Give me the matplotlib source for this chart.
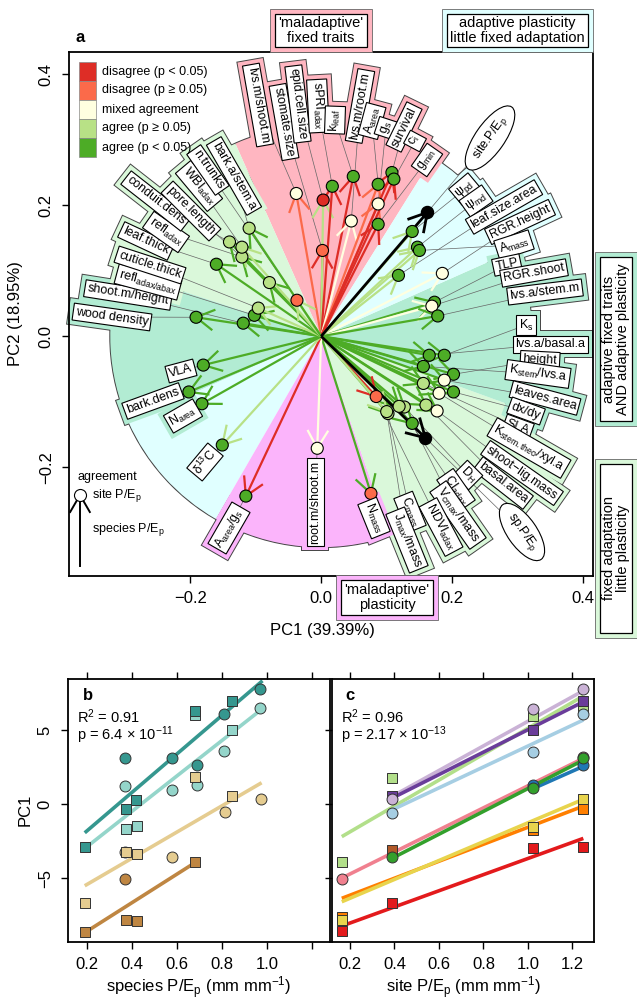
import matplotlib.pyplot as plt
import numpy as np
from matplotlib.patches import Arc, Rectangle, Wedge

plt.rcParams.update({
    "font.family": ["Liberation Sans", "DejaVu Sans"],
    "mathtext.fontset": "custom",
    "mathtext.rm": "Liberation Sans",
    "mathtext.it": "Liberation Sans:italic",
    "mathtext.bf": "Liberation Sans:bold",
    "mathtext.default": "regular",
})

# ---------------- panel a: PCA loadings ----------------
trait_labels = [
    "lvs.m/shoot.m", "stomate.size", "epid.cell.size", "sPRI$_{adax}$", "k$_{leaf}$",
    "lvs.m/root.m", "A$_{area}$", "g$_s$", "survival", "c$_i$", "g$_{min}$",
    "ψ$_{pd}$", "ψ$_{md}$", "leaf.size.area", "RGR.height", "A$_{mass}$",
    "TLP", "RGR.shoot", "lvs.a/stem.m", "K$_s$", "lvs.a/basal.a", "height",
    "K$_{stem}$/lvs.a", "leaves.area", "dx/dy", "SLA",
    "K$_{stem.theo}$/xyl.a", "shoot−lig.mass", "basal.area", "D$_H$", "CI$_{adax}$",
    "V$_{cmax}$/mass", "NDVI$_{adax}$", "C$_{mass}$", "J$_{max}$/mass",
    "N$_{mass}$", "root.m/shoot.m", "A$_{area}$/g$_s$", "δ$^{13}$C",
    "N$_{area}$", "bark.dens", "VLA", "wood density", "shoot.m/height",
    "refl$_{adax/abax}$", "cuticle.thick", "leaf.thick", "refl$_{adax}$",
    "conduit.dens", "pore.length", "WBI$_{adax}$", "n.trunks", "bark.a/stem.a",
]
pc1 = [-0.038, 0.002, 0.003, 0.017, 0.049, 0.046, 0.087, 0.087, 0.108, 0.111, 0.087,
       0.139, 0.147, 0.118, 0.185, 0.150,
       0.173, 0.169, 0.178, 0.188, 0.165, 0.202, 0.156, 0.188, 0.202, 0.156,
       0.180, 0.177, 0.160, 0.127, 0.119, 0.139, 0.084, 0.102, 0.100,
       0.076, -0.006, -0.115, -0.151,
       -0.182, -0.202, -0.180, -0.191, -0.119, -0.102, -0.096, -0.160, -0.121,
       -0.140, -0.079, -0.121, -0.037, -0.110]
pc2 = [0.218, 0.131, 0.208, 0.229, 0.244, 0.176, 0.232, 0.202, 0.250, 0.240, 0.171,
       0.160, 0.136, 0.093, 0.096, 0.131,
       0.052, 0.046, 0.031, -0.029, -0.029, -0.058, -0.046, -0.067, -0.085, -0.072,
       -0.087, -0.114, -0.105, -0.108, -0.107, -0.133, -0.092, -0.118, -0.115,
       -0.240, -0.171, -0.244, -0.166,
       -0.103, -0.085, -0.044, 0.029, 0.020, 0.032, 0.043, 0.110, 0.121,
       0.144, 0.082, 0.136, 0.055, 0.165]
site_agreement = ["mix", "dis_ns", "dis", "agr", "agr", "mix", "agr", "mix", "agr", "agr", "agr",
                  "agr", "agr", "agr", "mix", "agr",
                  "agr", "mix", "agr", "agr", "agr", "agr", "agr", "mix", "agr", "agr_ns",
                  "mix", "mix", "agr_ns", "agr_ns", "agr_ns", "agr", "dis_ns", "agr_ns", "agr_ns",
                  "dis_ns", "mix", "agr", "agr",
                  "agr", "agr", "agr", "agr", "agr", "agr", "agr_ns", "agr", "agr_ns",
                  "agr_ns", "agr_ns", "agr_ns", "dis_ns", "agr_ns"]
species_agreement = ["dis_ns", "dis", "agr_ns", "dis", "dis", "mix", "dis_ns", "dis_ns", "dis", "dis", "dis",
                     "agr_ns", "agr_ns", "agr_ns", "mix", "agr_ns",
                     "agr", "mix", "agr", "agr", "agr", "agr", "agr", "agr", "agr", "agr",
                     "agr", "agr", "agr", "agr", "agr", "agr", "dis", "agr", "agr_ns",
                     "agr", "mix", "dis", "agr_ns",
                     "agr", "agr", "agr", "agr", "agr", "agr", "agr_ns", "agr", "agr",
                     "agr", "agr", "agr_ns", "agr_ns", "agr"]
trait_sector = ["pink"] * 11 + ["cyan"] * 5 + ["aqua"] * 10 + ["lgreen"] * 9 + \
               ["magenta"] * 3 + ["cyan"] + ["aqua"] * 5 + ["lgreen"] * 9
# label placement (pixel centre, rotation)
label_px = [(258, 105), (284, 122), (298, 104), (318, 106), (335, 120), (360, 106), (372, 121),
            (386, 128), (404, 127), (415, 141), (427, 160),
            (465, 189), (476, 201), (504, 207), (520, 222), (514, 245),
            (507, 265), (534, 273), (545, 292), (526, 325), (550, 344), (540, 360), (538, 374),
            (545, 398), (526, 411), (518, 427),
            (529, 448), (522, 473), (503, 483), (468, 475), (456, 490), (458, 515), (441, 527),
            (410, 512), (407, 540),
            (374, 518), (315, 502), (229, 528), (205, 462),
            (183, 416), (153, 401), (181, 371), (112, 317), (128, 295), (148, 282), (150, 265),
            (146, 241), (166, 232), (156, 201), (191, 211), (199, 186), (208, 170), (234, 176)]
label_rot = [-80, -80, -83, -87, 88, 80, 75, 72, 64, 62, 55,
             40, 35, 30, 25, 18,
             12, 10, 7, 0, 0, -3, -8, -15, -20, -20,
             -30, -35, -38, -45, -55, -55, -62, -68, -68,
             -68, 90, 60, 50,
             30, 20, 15, -8, -9, -15, -18, -25, -35, -38, -45, -50, -55, -60]

ref_labels = ["site.P/E$_p$", "sp.P/E$_p$"]
ref_pc1 = [0.162, 0.159]
ref_pc2 = [0.189, -0.155]
ref_px = [(490, 138), (522, 532)]
ref_rot = [55, -55]

sectors = [(58, 114, "pink"), (114, 162, "lgreen"), (162, 204, "aqua"), (204, 240, "cyan"),
           (240, 289, "magenta"), (289, 340, "lgreen"), (-20, 24, "aqua"), (24, 58, "cyan")]
SECTOR_RADIUS = 0.322

legend_keys = ["dis", "dis_ns", "mix", "agr_ns", "agr"]
legend_text = ["disagree (p < 0.05)", "disagree (p ≥ 0.05)", "mixed agreement",
               "agree (p ≥ 0.05)", "agree (p < 0.05)"]

# ---------------- panel b: species P/Ep ----------------
b_series = [
    # colour, marker, x, y
    ("#94d5ca", "s", [0.846, 0.421, 0.373, 0.68], [5.0, -1.49, -1.69, 6.05]),
    ("#35978f", "s", [0.843, 0.68, 0.418, 0.372, 0.191], [6.98, 6.31, 0.27, -0.36, -2.93]),
    ("#35978f", "o", [0.969, 0.81, 0.576, 0.369, 0.687], [7.75, 6.08, 3.13, 3.09, 2.64]),
    ("#94d5ca", "o", [0.969, 0.81, 0.369, 0.576, 0.687], [6.47, 3.58, 1.22, 0.95, 1.28]),
    ("#e5cc90", "o", [0.973, 0.813, 0.576, 0.369], [0.32, -0.52, -3.6, -3.22]),
    ("#e5cc90", "s", [0.68, 0.846, 0.372, 0.421, 0.191], [1.8, 0.54, -3.27, -3.4, -6.67]),
    ("#bf8642", "o", [0.369], [-5.09]),
    ("#bf8642", "s", [0.68, 0.372, 0.421, 0.191], [-3.9, -7.84, -7.91, -8.63]),
]
b_lines = [
    ("#35978f", [0.19, 0.98], [-1.94, 8.33]),
    ("#94d5ca", [0.19, 0.976], [-3.0, 6.4]),
    ("#e5cc90", [0.19, 0.976], [-5.52, 1.44]),
    ("#bf8642", [0.19, 0.68], [-8.69, -3.96]),
]

# ---------------- panel c: site P/Ep ----------------
c_series = [
    ("#b15928", "s", [0.387], [-3.1]),
    ("#ff7f00", "s", [1.249, 1.024, 0.163], [-0.36, -1.76, -7.6]),
    ("#e8d44d", "s", [1.249, 1.024, 0.163], [0.32, -1.53, -7.84]),
    ("#e31a1c", "s", [1.249, 1.024, 0.387, 0.163], [-2.88, -2.95, -6.71, -8.56]),
    ("#b2df8a", "s", [0.387, 0.163, 1.024, 1.249], [1.78, -3.9, 5.95, 6.47]),
    ("#6a3d9a", "s", [1.249, 1.024, 0.387], [6.96, 5.0, 0.54]),
    ("#a6cee3", "o", [1.249, 1.024, 0.387], [6.08, 3.54, -0.59]),
    ("#cab2d6", "o", [1.249, 1.024, 0.387], [7.75, 6.42, 0.32]),
    ("#f0808f", "o", [0.163, 1.249], [-5.09, 3.2]),
    ("#1f78b4", "o", [1.024, 1.249], [1.28, 2.64]),
    ("#33a02c", "o", [0.387, 1.024, 1.249], [-3.56, 1.06, 3.09]),
]
c_lines = [
    ("#1f78b4", [1.024, 1.249], [1.05, 2.55]),
    ("#cab2d6", [0.387, 1.249], [0.5, 7.66]),
    ("#b2df8a", [0.163, 1.249], [-2.2, 7.3]),
    ("#6a3d9a", [0.387, 1.249], [0.38, 6.91]),
    ("#a6cee3", [0.387, 1.249], [-0.41, 5.68]),
    ("#f0808f", [0.163, 1.249], [-5.0, 3.09]),
    ("#33a02c", [0.387, 1.249], [-3.68, 2.97]),
    ("#ff7f00", [0.163, 1.249], [-6.37, -0.14]),
    ("#e8d44d", [0.163, 1.249], [-6.6, 0.32]),
    ("#e31a1c", [0.163, 1.249], [-8.24, -2.32]),
]

AGREE = {"dis": "#de2d26", "dis_ns": "#fb6a4a", "mix": "#ffffe0",
         "agr_ns": "#b8e186", "agr": "#4dac26"}
SECTOR = {"pink": "#ffb6c1", "lgreen": "#daf8da", "aqua": "#b2ecd3",
          "cyan": "#e0ffff", "magenta": "#fbb4fb"}

W, H = 637, 1007
fig = plt.figure(figsize=(W / 100, H / 100), dpi=100)


def fx(x):
    return x / W


def fy(y):
    return 1 - y / H


ax = fig.add_axes([fx(69), fy(576), 524 / W, 524 / H])
ax.set_xlim(-0.385, 0.415)
ax.set_ylim(-0.366, 0.434)


def to_data(px, py):
    return -0.385 + (px - 69) / 655, 0.434 - (py - 52) / 655


def arrow(x, y, color, lw=1.6, arm=0.03, z=3):
    ax.plot([0, x], [0, y], color=color, lw=lw, zorder=z, solid_capstyle="butt")
    ang = np.arctan2(y, x)
    for s in (1, -1):
        a = ang + np.pi + s * np.radians(30)
        ax.plot([x, x + arm * np.cos(a)], [y, y + arm * np.sin(a)], color=color, lw=lw, zorder=z)


# sectors
ax.add_patch(Arc((0, 0), 2 * SECTOR_RADIUS, 2 * SECTOR_RADIUS, ec="#444", lw=1.4, zorder=1.0))
for t1, t2, key in sectors:
    ax.add_patch(Wedge((0, 0), SECTOR_RADIUS, t1, t2, fc=SECTOR[key], ec="none", zorder=2.0))

FS = 9
for lab, (cx, cy), rot, sec in zip(trait_labels, label_px, label_rot, trait_sector):
    lx, ly = to_data(cx, cy)
    common = dict(rotation=rot, rotation_mode="anchor", ha="center", va="center", fontsize=FS)
    ax.text(lx, ly, lab, color="none", zorder=1.5,
            bbox=dict(boxstyle="square,pad=0.55", fc=SECTOR[sec], ec="#444", lw=1.4), **common)
    ax.text(lx, ly, lab, color="none", zorder=2.1,
            bbox=dict(boxstyle="square,pad=0.55", fc=SECTOR[sec], ec="none"), **common)
    ax.text(lx, ly, lab, zorder=7,
            bbox=dict(boxstyle="square,pad=0.2", fc="white", ec="black", lw=0.8), **common)

for lab, (cx, cy), rot in zip(ref_labels, ref_px, ref_rot):
    lx, ly = to_data(cx, cy)
    ax.text(lx, ly, lab, rotation=rot, rotation_mode="anchor", ha="center", va="center",
            fontsize=FS, zorder=7, bbox=dict(boxstyle="ellipse,pad=0.15", fc="white", ec="black", lw=0.8))

# connectors
for x, y, (cx, cy) in zip(pc1 + ref_pc1, pc2 + ref_pc2, label_px + ref_px):
    lx, ly = to_data(cx, cy)
    ax.plot([x, lx], [y, ly], color="#666", lw=0.5, zorder=2.5)

for x, y, sp in zip(pc1, pc2, species_agreement):
    arrow(x, y, AGREE[sp])
for x, y in zip(ref_pc1, ref_pc2):
    arrow(x, y, "black", lw=2.0)

ax.scatter(pc1, pc2, s=75, c=[AGREE[k] for k in site_agreement], edgecolors="black",
           linewidths=0.8, zorder=4)
ax.scatter(ref_pc1, ref_pc2, s=75, c="black", edgecolors="black", zorder=4)

# arrow key
kx, ky = to_data(80, 495)
_, ky0 = to_data(80, 566)
ax.plot([kx, kx], [ky0, ky], color="black", lw=1.4, zorder=3)
for s in (1, -1):
    a = np.pi / 2 + np.pi + s * np.radians(30)
    ax.plot([kx, kx + 0.03 * np.cos(a)], [ky, ky + 0.03 * np.sin(a)], color="black", lw=1.4, zorder=3)
ax.scatter([kx], [ky], s=75, c="white", edgecolors="black", linewidths=0.8, zorder=4)
ax.text(*to_data(77, 477), "agreement", fontsize=9, ha="left", va="center")
ax.text(*to_data(92, 495), "site P/E$_p$", fontsize=9, ha="left", va="center")
ax.text(*to_data(92, 530), "species P/E$_p$", fontsize=9, ha="left", va="center")

ax.set_xticks([-0.2, 0.0, 0.2, 0.4], ["−0.2", "0.0", "0.2", "0.4"])
ax.set_yticks([-0.2, 0.0, 0.2, 0.4], ["−0.2", "0.0", "0.2", "0.4"])
ax.tick_params(direction="out", length=5, width=1, labelsize=12, pad=6)
plt.setp(ax.get_yticklabels(), rotation=90, va="center")
for sp in ax.spines.values():
    sp.set_linewidth(1.3)
ax.set_xlabel("PC1 (39.39%)", fontsize=12)
ax.xaxis.set_label_coords((322 - 69) / 524, -(630 - 576) / 524)
ax.xaxis.label.set_va("center")
ax.set_ylabel("PC2 (18.95%)", fontsize=12)
ax.yaxis.set_label_coords(-(69 - 16) / 524, (576 - 314) / 524)
ax.yaxis.label.set_va("center")

fig.text(fx(80), fy(38), "a", fontsize=12, fontweight="bold", ha="center", va="center")

# colour key
for i, (key, txt) in enumerate(zip(legend_keys, legend_text)):
    top = 62 + i * 19
    fig.add_artist(Rectangle((fx(79), fy(top + 19)), 17 / W, 19 / H, transform=fig.transFigure,
                             fc=AGREE[key], ec="#888", lw=0.5, zorder=8))
    fig.text(fx(102), fy(top + 9.5), txt, fontsize=9, ha="left", va="center", zorder=8)


def category_box(x0, y0, x1, y1, color, text, rot=0):
    fig.add_artist(Rectangle((fx(x0), fy(y1)), (x1 - x0) / W, (y1 - y0) / H,
                             transform=fig.transFigure, fc=color, ec="#666", lw=0.6, zorder=5))
    fig.add_artist(Rectangle((fx(x0 + 5), fy(y1 - 5)), (x1 - x0 - 10) / W, (y1 - y0 - 10) / H,
                             transform=fig.transFigure, fc="white", ec="black", lw=0.9, zorder=5.5))
    fig.text(fx((x0 + x1) / 2), fy((y0 + y1) / 2), text, rotation=rot, fontsize=10.5,
             ha="center", va="center", linespacing=1.05, zorder=6)


category_box(270, 9, 372, 52, SECTOR["pink"], "'maladaptive'\nfixed traits")
category_box(442, 9, 593, 52, SECTOR["cyan"], "adaptive plasticity\nlittle fixed adaptation")
category_box(595, 252, 637, 426, SECTOR["aqua"], "adaptive fixed traits\nAND adaptive plasticity", 90)
category_box(595, 459, 637, 638, SECTOR["lgreen"], "fixed adaptation\nlittle plasticity", 90)
category_box(336, 575, 438, 620, SECTOR["magenta"], "'maladaptive'\nplasticity")

# ---------------- panels b and c ----------------
axb = fig.add_axes([fx(68), fy(942), 262 / W, 263 / H])
axc = fig.add_axes([fx(332), fy(942), 262 / W, 263 / H])
axb.set_xlim(0.1156, 1.28)
axc.set_xlim(0.119, 1.297)
for a in (axb, axc):
    a.set_ylim(-9.32, 8.45)
    a.set_yticks([-5, 0, 5], ["−5", "0", "5"])
    a.set_xticks([0.2, 0.4, 0.6, 0.8, 1.0, 1.2])
    a.tick_params(direction="out", length=5, width=1, labelsize=12, pad=6, top=True)
    for sp in a.spines.values():
        sp.set_linewidth(1.3)
axb.set_xticklabels(["0.2", "0.4", "0.6", "0.8", "1.0", ""])
axc.set_xticklabels(["0.2", "0.4", "0.6", "0.8", "1.0", "1.2"])
plt.setp(axb.get_yticklabels(), rotation=90, va="center")
axc.tick_params(labelleft=False)

for col, xs, ys in b_lines:
    axb.plot(xs, ys, color=col, lw=2.6, zorder=2, solid_capstyle="butt")
for col, m, xs, ys in b_series:
    axb.scatter(xs, ys, s=62, marker=m, c=col, edgecolors="#333", linewidths=0.7, zorder=3)
for col, xs, ys in c_lines:
    axc.plot(xs, ys, color=col, lw=2.6, zorder=2, solid_capstyle="butt")
for col, m, xs, ys in c_series:
    axc.scatter(xs, ys, s=62, marker=m, c=col, edgecolors="#333", linewidths=0.7, zorder=3)

axb.text(0.076, 0.939, "b", transform=axb.transAxes, fontsize=12, fontweight="bold",
         ha="center", va="center")
axb.text(0.034, 0.856, "R$^2$ = 0.91", transform=axb.transAxes, fontsize=10.5, va="center")
axb.text(0.034, 0.787, r"p = 6.4 $\times$ 10$^{-11}$", transform=axb.transAxes, fontsize=10.5,
         va="center")
axc.text(0.069, 0.939, "c", transform=axc.transAxes, fontsize=12, fontweight="bold",
         ha="center", va="center")
axc.text(0.034, 0.856, "R$^2$ = 0.96", transform=axc.transAxes, fontsize=10.5, va="center")
axc.text(0.034, 0.787, r"p = 2.17 $\times$ 10$^{-13}$", transform=axc.transAxes, fontsize=10.5,
         va="center")

axb.set_xlabel("species P/E$_p$ (mm mm$^{-1}$)", fontsize=12)
axc.set_xlabel("site P/E$_p$ (mm mm$^{-1}$)", fontsize=12)
for a in (axb, axc):
    a.xaxis.set_label_coords(0.5, -(988 - 942) / 263)
    a.xaxis.label.set_va("center")
axb.set_ylabel("PC1", fontsize=12)
axb.yaxis.set_label_coords(-(68 - 25) / 262, (942 - 810) / 263)
axb.yaxis.label.set_va("center")

fig.savefig("out.png", dpi=100)
